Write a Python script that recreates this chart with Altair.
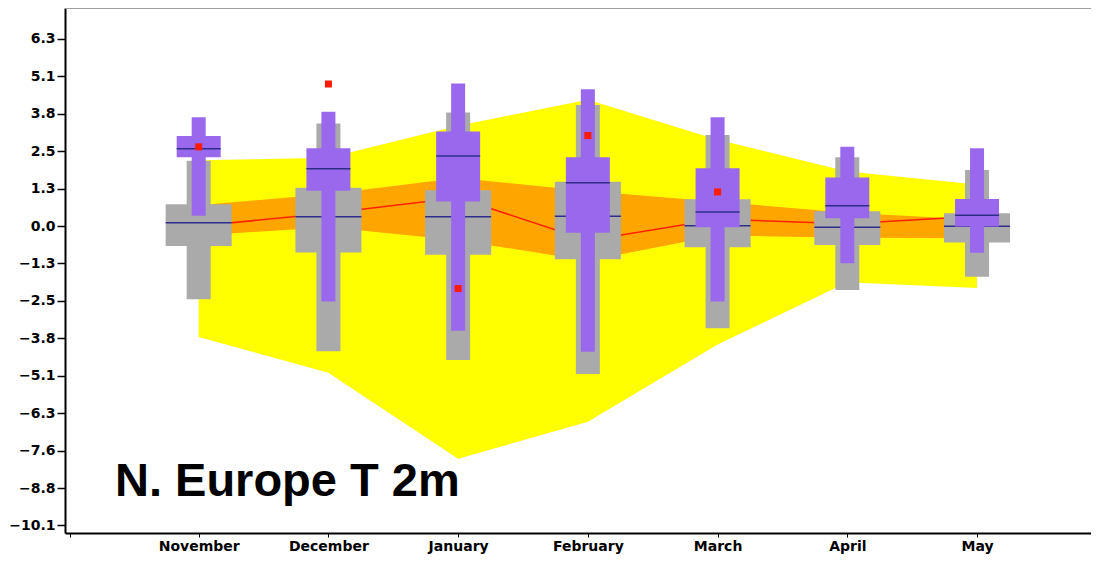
import json
import altair as alt
import pandas as pd

# ---------------- data ----------------
months = ["November", "December", "January", "February", "March", "April", "May"]
month_idx = list(range(len(months)))

# climate envelope (yellow) and inner climate band (orange), climate line (red)
clim_max = [2.22, 2.30, 3.38, 4.26, 2.91, 1.84, 1.40]
clim_min = [-3.74, -4.95, -7.85, -6.60, -4.00, -1.90, -2.09]
band_hi = [0.70, 1.08, 1.62, 1.18, 0.82, 0.45, 0.22]
band_lo = [-0.32, -0.04, -0.48, -1.17, -0.32, -0.40, -0.41]
clim_line = [0.00, 0.43, 0.95, -0.49, 0.23, 0.08, 0.33]

# grey (climate) distribution
grey_wlo = [-2.47, -4.22, -4.52, -4.99, -3.45, -2.16, -1.71]
grey_blo = [-0.67, -0.89, -0.97, -1.12, -0.72, -0.64, -0.56]
grey_med = [0.11, 0.31, 0.31, 0.33, 0.01, -0.04, -0.01]
grey_bhi = [0.73, 1.29, 1.21, 1.49, 0.90, 0.50, 0.43]
grey_whi = [2.20, 3.46, 3.83, 4.08, 3.07, 2.32, 1.89]

# purple (forecast) distribution
purp_wlo = [0.35, -2.55, -3.53, -4.24, -2.55, -1.26, -0.90]
purp_blo = [2.32, 1.19, 0.83, -0.23, -0.04, 0.26, -0.02]
purp_med = [2.61, 1.93, 2.36, 1.46, 0.47, 0.68, 0.36]
purp_bhi = [3.04, 2.62, 3.19, 2.32, 1.95, 1.64, 0.91]
purp_whi = [3.67, 3.85, 4.81, 4.61, 3.67, 2.67, 2.62]

# observed values (red squares)
obs_idx = [0, 1, 2, 3, 4]
obs_vals = [2.67, 4.79, -2.11, 3.05, 1.15]

y_tick_step = 1.26251
y_tick_k = list(range(-8, 6))

annotation = "N. Europe T 2m"

# ---------------- build tables ----------------
df = pd.DataFrame({
    "idx": month_idx, "month": months,
    "clim_max": clim_max, "clim_min": clim_min,
    "band_hi": band_hi, "band_lo": band_lo, "clim_line": clim_line,
    "g_wlo": grey_wlo, "g_blo": grey_blo, "g_med": grey_med, "g_bhi": grey_bhi, "g_whi": grey_whi,
    "p_wlo": purp_wlo, "p_blo": purp_blo, "p_med": purp_med, "p_bhi": purp_bhi, "p_whi": purp_whi,
})
obs_df = pd.DataFrame({"idx": obs_idx, "obs": obs_vals})

W, H = 1026, 525
FONT = "DejaVu Sans"
NAVY = "#2E2E8A"
GREY = "#AAAAAA"
PURPLE = "#9A68EC"

xs = alt.Scale(domain=[-0.992, 6.84], nice=False, zero=False)
ys = alt.Scale(domain=[-10.354, 7.353], nice=False, zero=False)

label_expr = "datum.value < 0 ? '' : " + json.dumps(months) + "[datum.value]"
x_axis = alt.Axis(values=[-0.992] + month_idx, labelExpr=label_expr, title=None, grid=False,
                  labelFont=FONT, labelFontWeight="bold", labelFontSize=14, labelColor="black",
                  tickColor="black", tickSize=4, tickWidth=1, domainColor="black", domainWidth=2,
                  labelPadding=2, labelFlush=False, labelBound=False, labelOverlap=False)
y_axis = alt.Axis(values=[k * y_tick_step for k in y_tick_k], format=".1f", title=None, grid=False,
                  labelFont=FONT, labelFontWeight="bold", labelFontSize=14, labelColor="black",
                  tickColor="black", tickSize=8, tickWidth=1.5, domainColor="black", domainWidth=2,
                  labelPadding=2, labelFlush=False, labelBound=False, labelOverlap=False)

X = alt.X("idx:Q", scale=xs, axis=x_axis)


def Y(field):
    return alt.Y(f"{field}:Q", scale=ys, axis=y_axis)


base = alt.Chart(df)

yellow = base.mark_area(color="#FFFF00", opacity=1).encode(x=X, y=Y("clim_max"), y2="clim_min:Q")
orange = base.mark_area(color="#FFA500", opacity=1).encode(x=X, y=Y("band_hi"), y2="band_lo:Q")
redline = base.mark_line(color="#FF2200", strokeWidth=1.5, opacity=1).encode(x=X, y=Y("clim_line"))

g_wh = base.mark_bar(width=24, color=GREY, opacity=1, orient="vertical").encode(x=X, y=Y("g_wlo"), y2="g_whi:Q")
g_box = base.mark_bar(width=66, color=GREY, opacity=1, orient="vertical").encode(x=X, y=Y("g_blo"), y2="g_bhi:Q")
g_md = base.mark_tick(orient="horizontal", size=66, thickness=1.5, color=NAVY, opacity=1).encode(x=X, y=Y("g_med"))

p_wh = base.mark_bar(width=14, color=PURPLE, opacity=1, orient="vertical").encode(x=X, y=Y("p_wlo"), y2="p_whi:Q")
p_box = base.mark_bar(width=44, color=PURPLE, opacity=1, orient="vertical").encode(x=X, y=Y("p_blo"), y2="p_bhi:Q")
p_md = base.mark_tick(orient="horizontal", size=44, thickness=1.5, color=NAVY, opacity=1).encode(x=X, y=Y("p_med"))

obs = alt.Chart(obs_df).mark_square(size=49, color="#FF1A00", opacity=1).encode(x=X, y=Y("obs"))

top_rule = alt.Chart(obs_df).mark_rule(color="#A0A0A0", strokeWidth=1.5).encode(
    x=alt.value(0), x2=alt.value(W), y=alt.value(0))

text = alt.Chart(pd.DataFrame({"t": [annotation]})).mark_text(
    font="Liberation Sans", fontWeight="bold", fontSize=47, align="left", baseline="alphabetic",
    color="black").encode(text="t:N", x=alt.value(50), y=alt.value(488))

chart = alt.layer(
    yellow, orange, redline, g_wh, g_box, g_md, p_wh, p_box, p_md, obs, top_rule, text
).properties(
    width=W, height=H,
    padding={"left": 57, "top": 0, "right": 0, "bottom": 22},
    autosize=alt.AutoSizeParams(type="none"),
).configure_view(strokeWidth=0)

chart.save("out.html", embed_options={"renderer": "svg", "actions": False})
